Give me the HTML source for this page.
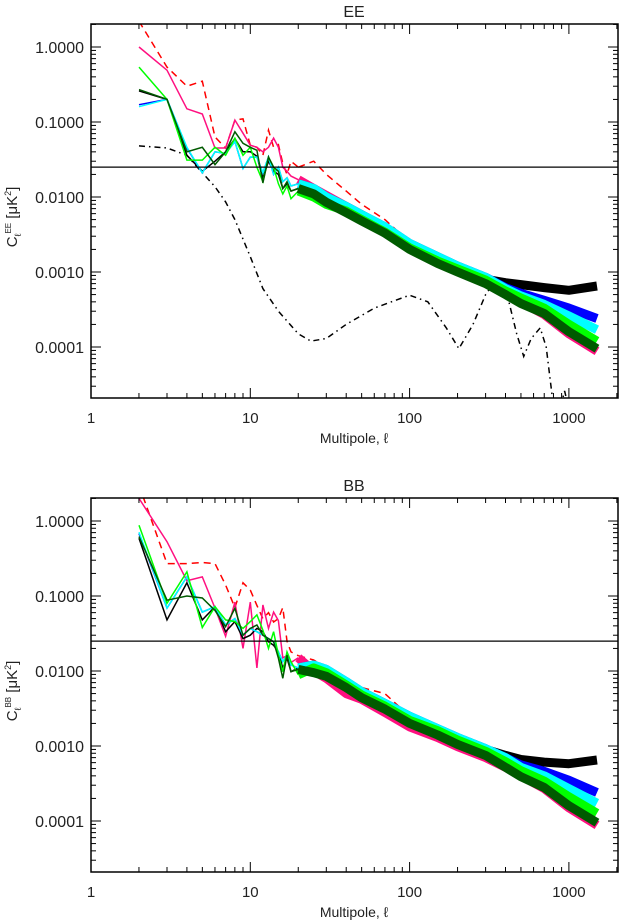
<!DOCTYPE html>
<html><head><meta charset="utf-8">
<style>
body{margin:0;background:#fff;}
svg{display:block;font-family:"Liberation Sans",sans-serif;}
</style></head>
<body>
<svg id="chart" width="619" height="921" viewBox="0 0 619 921" xmlns="http://www.w3.org/2000/svg"></svg>
<script>
const ells = [2,3,4,5,6,7,8,9,10,11,12,13,14,15,16,17,18,20,25,30,40,50,70,100,150,200,300,400,500,700,1000,1500];

const eeRed   = [2.2,0.54,0.30,0.35,0.063,0.045,0.106,0.11,0.049,0.046,0.036,0.078,0.046,0.05,0.028,0.02,0.03,0.025,0.03,0.02,0.012,0.008,0.005,0.0025,0.0014,0.00105,0.00072,0.00052,0.0004,0.00027,0.00015,0.000088];
const eePink  = [1.0,0.49,0.15,0.128,0.045,0.045,0.106,0.071,0.049,0.046,0.04,0.046,0.061,0.046,0.025,0.022,0.019,0.017,0.013,0.0105,0.0075,0.0058,0.0037,0.0022,0.0014,0.00105,0.00072,0.00052,0.0004,0.00027,0.00015,0.000088];
const eeBlack = [0.26,0.2,0.036,0.022,0.03,0.04,0.06,0.04,0.04,0.035,0.018,0.03,0.022,0.02,0.013,0.015,0.012,0.013,0.011,0.009,0.0068,0.0052,0.0035,0.0021,0.0014,0.0011,0.0008,0.00072,0.00068,0.00062,0.00057,0.00065];
const eeBlue  = [0.17,0.2,0.045,0.021,0.04,0.038,0.055,0.024,0.034,0.034,0.021,0.034,0.02,0.025,0.016,0.018,0.014,0.015,0.013,0.01,0.0075,0.0058,0.004,0.0024,0.0016,0.0012,0.00085,0.00062,0.00052,0.00042,0.00033,0.00024];
const eeCyan  = [0.16,0.2,0.046,0.021,0.04,0.038,0.055,0.024,0.034,0.034,0.021,0.034,0.02,0.025,0.016,0.018,0.014,0.015,0.013,0.01,0.0075,0.0058,0.004,0.0024,0.0016,0.0012,0.00085,0.0006,0.00048,0.00037,0.00026,0.00017];
const eeGreen = [0.54,0.2,0.031,0.031,0.046,0.036,0.061,0.036,0.046,0.025,0.016,0.034,0.025,0.015,0.011,0.014,0.0095,0.012,0.01,0.008,0.0065,0.005,0.0034,0.0021,0.0014,0.0011,0.00078,0.00056,0.00045,0.00033,0.0002,0.00012];
const eeDkGreen = [0.27,0.2,0.040,0.046,0.027,0.04,0.074,0.052,0.046,0.042,0.0154,0.034,0.025,0.022,0.013,0.016,0.012,0.013,0.011,0.0085,0.0062,0.0048,0.0033,0.002,0.0013,0.001,0.0007,0.0005,0.00038,0.00028,0.00016,0.000095];

const modelEll = [2,3,4,5,6,7,8,10,12,15,20,24,30,40,60,100,130,170,204,250,300,350,420,470,520,580,660,720,790,880,940,980];
const modelEE  = [0.048,0.045,0.036,0.021,0.0137,0.0086,0.005,0.0016,0.0006,0.0003,0.00015,0.00012,0.00013,0.0002,0.00033,0.00049,0.0004,0.00018,0.000095,0.0002,0.0005,0.0008,0.0004,0.00015,0.000075,0.00013,0.00018,0.0001,0.00002,0.000015,0.000026,0.000018];

const bbRed   = [3.0,0.27,0.27,0.28,0.27,0.14,0.07,0.15,0.12,0.075,0.05,0.06,0.045,0.05,0.07,0.025,0.018,0.016,0.014,0.011,0.008,0.006,0.005,0.0025,0.0015,0.0011,0.0007,0.00052,0.0004,0.00027,0.00015,0.000088];
const bbPink  = [2.0,0.53,0.16,0.18,0.069,0.029,0.083,0.02,0.083,0.011,0.076,0.037,0.061,0.047,0.015,0.016,0.013,0.015,0.01,0.008,0.005,0.0042,0.0028,0.0018,0.0013,0.00098,0.0007,0.00052,0.0004,0.00027,0.00015,0.000088];
const bbBlack = [0.59,0.048,0.15,0.048,0.072,0.0334,0.0455,0.027,0.03,0.037,0.0334,0.0246,0.022,0.018,0.0109,0.0148,0.0098,0.011,0.01,0.009,0.0062,0.0046,0.0033,0.0021,0.0015,0.0012,0.0009,0.00075,0.00066,0.00061,0.00058,0.00065];
const bbBlue  = [0.68,0.069,0.18,0.061,0.072,0.041,0.05,0.03,0.037,0.0334,0.03,0.027,0.0246,0.018,0.0133,0.0163,0.012,0.011,0.012,0.0105,0.0072,0.0053,0.0037,0.0025,0.0017,0.0013,0.00092,0.0007,0.00056,0.00046,0.00035,0.00024];
const bbCyan  = [0.71,0.069,0.18,0.061,0.072,0.041,0.05,0.03,0.037,0.0334,0.03,0.027,0.0246,0.018,0.0133,0.0163,0.012,0.011,0.012,0.0105,0.0072,0.0053,0.0037,0.0025,0.0017,0.0013,0.00092,0.0007,0.00052,0.0004,0.00027,0.000173];
const bbGreen = [0.88,0.08,0.21,0.038,0.072,0.048,0.0455,0.037,0.0455,0.056,0.035,0.020,0.0334,0.0163,0.0098,0.018,0.0133,0.0089,0.011,0.0095,0.0065,0.0048,0.0034,0.0022,0.0016,0.0012,0.00085,0.00062,0.00047,0.00034,0.00021,0.000127];
const bbDkGreen = [0.62,0.088,0.10,0.094,0.064,0.039,0.0685,0.03,0.037,0.041,0.03,0.027,0.0246,0.0148,0.008,0.0163,0.0098,0.0105,0.0095,0.0085,0.006,0.0044,0.0031,0.002,0.0014,0.00105,0.00075,0.00052,0.00039,0.00028,0.00016,0.000095];

const threshold = 0.025;
const yTickVals = [1,0.1,0.01,0.001,0.0001];
const yTickLabels = ["1.0000","0.1000","0.0100","0.0010","0.0001"];
const xTickVals = [1,10,100,1000];
const xTickLabels = ["1","10","100","1000"];

const NS="http://www.w3.org/2000/svg";
const svg=document.getElementById('chart');
const X0=91, X1=618, XDEC=159.3;
const YDEC=75;
function xs(l){return X0+XDEC*Math.log10(l);}
function mk(tag,attrs,parent){const e=document.createElementNS(NS,tag);for(const k in attrs)e.setAttribute(k,attrs[k]);(parent||svg).appendChild(e);return e;}

function panel(key,top,title,ytitleSup,series,model){
  const bottom=top+374;
  const y1=top+23;
  const ys=v=>y1-YDEC*Math.log10(v);
  const g=mk('g',{});
  
  
  const cp=mk('clipPath',{id:'clip-'+key},g);
  mk('rect',{x:X0,y:top,width:X1-X0,height:bottom-top},cp);
  const plot=mk('g',{'clip-path':'url(#clip-'+key+')'},g);
  
  
  if(model){
    const pts=modelEll.map((l,i)=>xs(l).toFixed(1)+','+ys(model[i]).toFixed(1)).join(' ');
    const m=mk('polyline',{points:pts,fill:'none',stroke:'#000','stroke-width':1.5,'stroke-dasharray':'6,4,1.5,4'},plot);
    
    
  }
  series.forEach(s=>{
    const ptsLow=[],ptsHigh=[];
    ells.forEach((l,i)=>{const p=xs(l).toFixed(1)+','+ys(s.v[i]).toFixed(1);if(l<=20)ptsLow.push(p);if(l>=20)ptsHigh.push(p);});
    const hi=mk('polyline',{points:ptsHigh.join(' '),fill:'none',stroke:s.c,'stroke-width':s.dash?1.5:9,'stroke-linejoin':'round','stroke-dasharray':s.dash||'none'},plot);
    
    
    const lo=mk('polyline',{points:ptsLow.join(' '),fill:'none',stroke:s.c,'stroke-width':1.5,'stroke-dasharray':s.dash||'none'},plot);
    
    
  });
  const hl=mk('line',{x1:X0,x2:X1,y1:ys(threshold),y2:ys(threshold),stroke:'#000','stroke-width':1.3},plot);
  
  
  const fr=mk('rect',{x:X0,y:top,width:X1-X0,height:bottom-top,fill:'none',stroke:'#000','stroke-width':1.5},g);
  
  
  for(let d=-5;d<=0;d++){for(let k=1;k<=9;k++){const v=k*Math.pow(10,d);const y=ys(v);if(y<top-0.5||y>bottom+0.5)continue;const len=k===1?10:5;
    mk('line',{x1:X0,x2:X0+len,y1:y,y2:y,stroke:'#000','stroke-width':1},g);
    mk('line',{x1:X1,x2:X1-len,y1:y,y2:y,stroke:'#000','stroke-width':1},g);}}
  yTickVals.forEach((v,i)=>{const t=mk('text',{x:84,y:ys(v)+6,'text-anchor':'end','font-size':16,fill:'#222'},g);t.textContent=yTickLabels[i];
    
    });
  for(let d=0;d<=3;d++){for(let k=1;k<=9;k++){const l=k*Math.pow(10,d);const x=xs(l);if(x>X1)continue;const len=k===1?10:5;
    mk('line',{x1:x,x2:x,y1:bottom,y2:bottom-len,stroke:'#000','stroke-width':1},g);
    mk('line',{x1:x,x2:x,y1:top,y2:top+len,stroke:'#000','stroke-width':1},g);}}
  xTickVals.forEach((v,i)=>{const t=mk('text',{x:xs(v),y:bottom+25,'text-anchor':'middle','font-size':15,fill:'#222'},g);t.textContent=xTickLabels[i];
    
    });
  const xt=mk('text',{x:354,y:bottom+45,'text-anchor':'middle','font-size':14,fill:'#222'},g);
  xt.textContent='Multipole, \u2113';
  
  
  const tt=mk('text',{x:354,y:top-7,'text-anchor':'middle','font-size':16,fill:'#222'},g);
  tt.textContent=title;
  
  
  const yt=mk('text',{x:0,y:0,'text-anchor':'middle','font-size':15,fill:'#222',transform:'translate(17,'+(top+193)+') rotate(-90)'},g);
  yt.innerHTML='C<tspan font-size="9" dy="4">\u2113</tspan><tspan font-size="8" dy="-10">'+ytitleSup+'</tspan><tspan dy="6"> [\u03bcK</tspan><tspan font-size="9" dy="-6">2</tspan><tspan dy="6">]</tspan>';
  
  
}

panel('ee',24,'EE','EE',[
  {n:'red-dashed',c:'#ff0000',v:eeRed,dash:'7,5'},
  {n:'pink',c:'#ff1080',v:eePink},
  {n:'black',c:'#000000',v:eeBlack},
  {n:'blue',c:'#0000ff',v:eeBlue},
  {n:'cyan',c:'#00ffff',v:eeCyan},
  {n:'green',c:'#00ff00',v:eeGreen},
  {n:'dark-green',c:'#005a00',v:eeDkGreen}
],modelEE);
panel('bb',498,'BB','BB',[
  {n:'red-dashed',c:'#ff0000',v:bbRed,dash:'7,5'},
  {n:'pink',c:'#ff1080',v:bbPink},
  {n:'black',c:'#000000',v:bbBlack},
  {n:'blue',c:'#0000ff',v:bbBlue},
  {n:'cyan',c:'#00ffff',v:bbCyan},
  {n:'green',c:'#00ff00',v:bbGreen},
  {n:'dark-green',c:'#005a00',v:bbDkGreen}
],null);
</script>
</body></html>
